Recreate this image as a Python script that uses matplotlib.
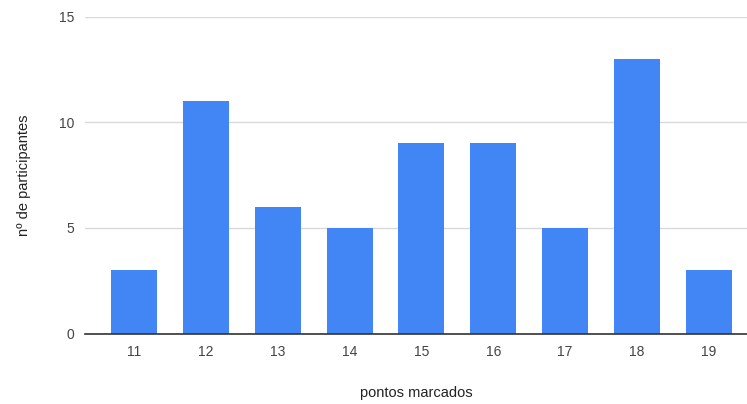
import numpy as np
import matplotlib.pyplot as plt

pontos = ["11", "12", "13", "14", "15", "16", "17", "18", "19"]
participantes = [3, 11, 6, 5, 9, 9, 5, 13, 3]
y_ticks = [0, 5, 10, 15]

plt.rcParams["font.family"] = ["Liberation Sans", "DejaVu Sans"]

fig = plt.figure(figsize=(7.47, 4.04), dpi=100)
ax = fig.add_axes([0.1138, 0.1745, 0.8862, 0.7845])

x = np.arange(len(pontos))
ax.bar(x, participantes, width=0.64, color="#4285f4", zorder=3)

ax.set_xlim(-0.68, len(pontos) - 1 + 0.53)
ax.set_ylim(0, 15)
ax.set_xticks(x, labels=pontos)
ax.set_yticks(y_ticks)
ax.yaxis.grid(True, color="#d9d9d9", linewidth=1, zorder=0)
ax.axhline(0, color="#333333", linewidth=1.2, zorder=4, clip_on=False)

for side in ["top", "right", "left", "bottom"]:
    ax.spines[side].set_visible(False)
ax.tick_params(axis="both", length=0, labelsize=10, colors="#444444")
ax.tick_params(axis="x", pad=8)
ax.tick_params(axis="y", pad=8)

ax.set_xlabel("pontos marcados", fontsize=10.5, color="#222222", labelpad=20)
ax.set_ylabel("nº de participantes", fontsize=10.5, color="#222222", labelpad=20)

plt.savefig("out.png", dpi=100)
plt.close(fig)
